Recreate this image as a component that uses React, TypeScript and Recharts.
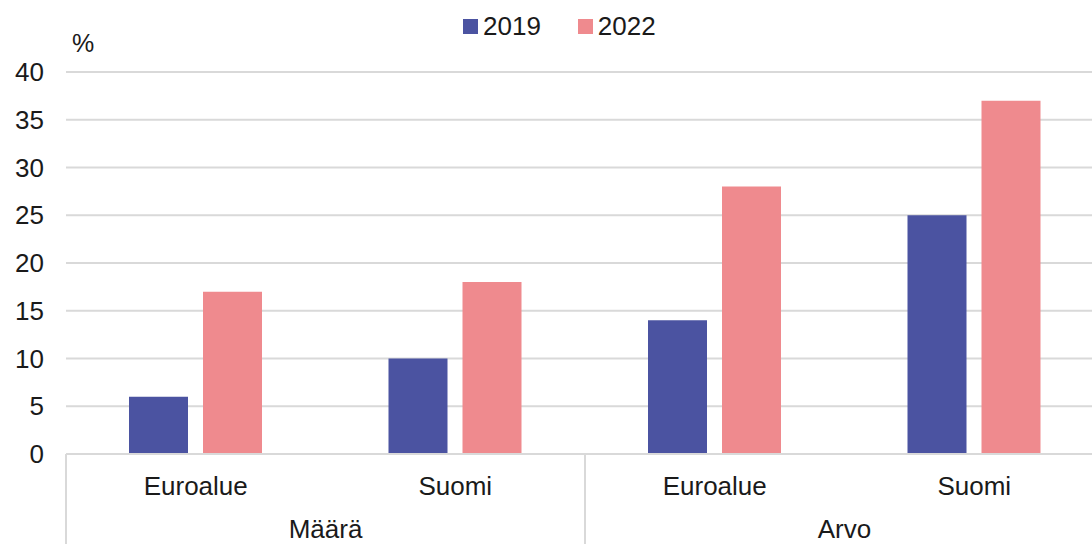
import React from 'react';
import { BarChart, Bar, XAxis, YAxis, CartesianGrid, Legend } from 'recharts';

const categories = ['Euroalue', 'Suomi', 'Euroalue', 'Suomi'];
const groups = ['Määrä', 'Määrä', 'Arvo', 'Arvo'];
const values2019 = [6, 10, 14, 25];
const values2022 = [17, 18, 28, 37];
const yTicks = [0, 5, 10, 15, 20, 25, 30, 35, 40];
const seriesNames = ['2019', '2022'];
const colors = ['#4b53a1', '#ef8a8e'];

const data = categories.map((c, i) => ({
  key: String(i),
  cat: c,
  group: groups[i],
  v2019: values2019[i],
  v2022: values2022[i],
}));

const CHART_W = 1104;
const CHART_H = 560;
const Y_W = 66;
const PLOT_W = CHART_W - Y_W;
const BAND = PLOT_W / categories.length;
const PLOT_BOTTOM = 454;
const FONT = '"Liberation Sans", Arial, sans-serif';
const TEXT = '#1a1a1a';
const LINE = '#d9d9d9';

const CatTick = (props: any) => {
  const { x, payload, index } = props;
  return (
    <text x={x} y={PLOT_BOTTOM + 41} textAnchor="middle" fontSize={26} fontFamily={FONT} fill={TEXT}>
      {categories[index] ?? payload.value}
    </text>
  );
};

const GroupTick = (props: any) => {
  const { x, index } = props;
  const out: React.ReactNode[] = [];
  const first = index === 0 || groups[index] !== groups[index - 1];
  const last = index === groups.length - 1 || groups[index] !== groups[index + 1];
  if (first) {
    out.push(<line key="l" x1={x - BAND / 2} x2={x - BAND / 2} y1={PLOT_BOTTOM} y2={CHART_H} stroke={LINE} strokeWidth={2} />);
    out.push(
      <text key="t" x={x + BAND / 2} y={PLOT_BOTTOM + 84} textAnchor="middle" fontSize={26} fontFamily={FONT} fill={TEXT}>
        {groups[index]}
      </text>
    );
  }
  if (last) {
    out.push(<line key="r" x1={x + BAND / 2} x2={x + BAND / 2} y1={PLOT_BOTTOM} y2={CHART_H} stroke={LINE} strokeWidth={2} />);
  }
  return <g>{out}</g>;
};

const LegendContent = () => (
  <div style={{ display: 'flex', alignItems: 'center', fontFamily: FONT, fontSize: 26, color: TEXT, lineHeight: '30px' }}>
    {seriesNames.map((n, i) => (
      <div key={n} style={{ display: 'flex', alignItems: 'center', marginRight: i === 0 ? 37 : 0 }}>
        <span style={{ display: 'inline-block', width: 15, height: 15, background: colors[i], marginRight: 5 }} />
        <span>{n}</span>
      </div>
    ))}
  </div>
);

const PercentLabel = (props: any) => {
  const { viewBox } = props;
  return (
    <text x={viewBox.x + viewBox.width + 6} y={viewBox.y - 20} fontSize={25} fontFamily={FONT} fill={TEXT}>
      %
    </text>
  );
};

export default function App() {
  return (
    <div style={{ position: 'fixed', left: 0, top: 0, width: 1092, height: 544, overflow: 'hidden', background: '#fff' }}>
      <BarChart
        width={CHART_W}
        height={CHART_H}
        data={data}
        margin={{ top: 8, right: 0, bottom: 16, left: 0 }}
        barSize={59}
        barGap={15}
      >
        <Legend
          verticalAlign="top"
          height={64}
          content={<LegendContent />}
          wrapperStyle={{ left: 463, top: 11, width: 'auto' }}
        />
        <CartesianGrid vertical={false} stroke={LINE} strokeWidth={2} />
        <XAxis
          dataKey="key"
          xAxisId={0}
          height={40}
          tick={<CatTick />}
          tickLine={false}
          axisLine={{ stroke: LINE, strokeWidth: 2 }}
          interval={0}
        />
        <XAxis
          dataKey="key"
          xAxisId="group"
          height={50}
          tick={<GroupTick />}
          tickLine={false}
          axisLine={false}
          interval={0}
        />
        <YAxis
          width={Y_W}
          domain={[0, 40]}
          ticks={yTicks}
          interval={0}
          tickLine={false}
          axisLine={false}
          tickMargin={16}
          tick={{ fontSize: 26, fontFamily: FONT, fill: TEXT }}
          label={<PercentLabel />}
        />
        <Bar dataKey="v2019" name={seriesNames[0]} fill={colors[0]} isAnimationActive={false} />
        <Bar dataKey="v2022" name={seriesNames[1]} fill={colors[1]} isAnimationActive={false} />
      </BarChart>
    </div>
  );
}
